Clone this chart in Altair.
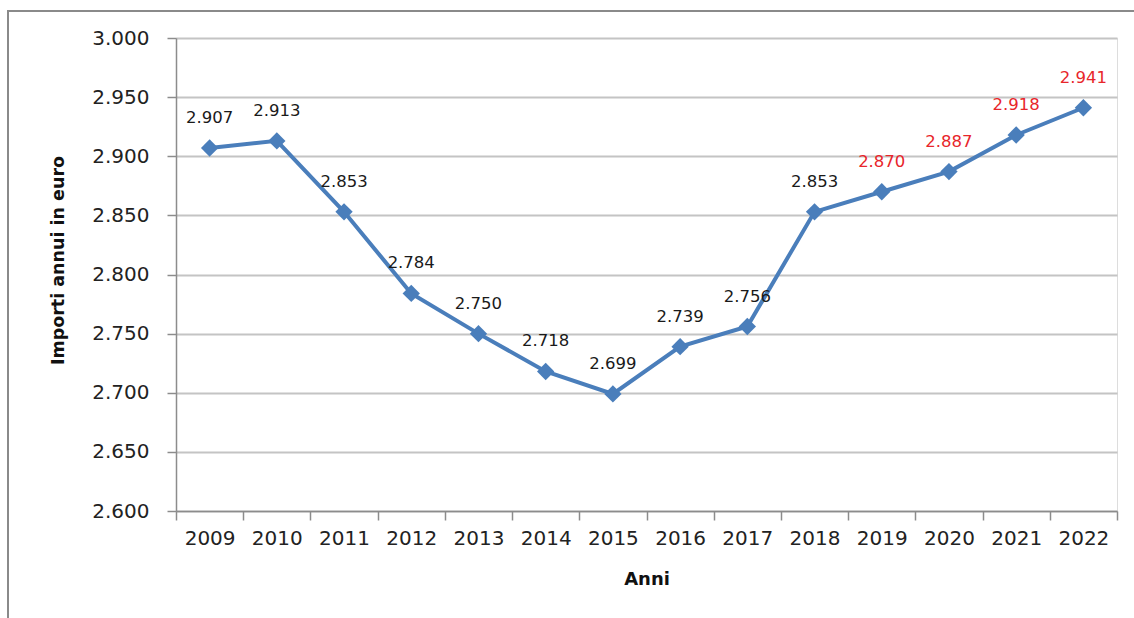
import altair as alt
import pandas as pd

# Annual amounts in euro, 2009-2022
anni = ["2009", "2010", "2011", "2012", "2013", "2014", "2015",
        "2016", "2017", "2018", "2019", "2020", "2021", "2022"]
importi = [2907, 2913, 2853, 2784, 2750, 2718, 2699,
           2739, 2756, 2853, 2870, 2887, 2918, 2941]
etichette = ["2.907", "2.913", "2.853", "2.784", "2.750", "2.718", "2.699",
             "2.739", "2.756", "2.853", "2.870", "2.887", "2.918", "2.941"]
# the last four years are estimates, labelled in red
stima = [False] * 10 + [True] * 4

df = pd.DataFrame({
    "anno": anni,
    "valore": importi,
    "etichetta": etichette,
    "stima": stima,
})

W, H = 941, 473
BLUE = "#4a7ebb"
FONT = "DejaVu Sans"

x_enc = alt.X(
    "anno:N",
    sort=anni,
    scale=alt.Scale(paddingInner=0, paddingOuter=0),
    axis=alt.Axis(
        title="Anni",
        titleFont=FONT, titleFontSize=18, titleFontWeight="bold", titleColor="#111",
        titleY=68, titleBaseline="middle",
        labelFont=FONT, labelFontSize=20, labelColor="#222", labelPadding=8,
        labelAngle=0,
        tickBand="extent", tickSize=9, tickColor="#8c8c8c", tickWidth=1.5,
        domainColor="#8c8c8c", domainWidth=1.5,
        grid=False,
    ),
)
y_enc = alt.Y(
    "valore:Q",
    scale=alt.Scale(domain=[2600, 3000], nice=False, zero=False),
    axis=alt.Axis(
        title="Importi annui in euro",
        titleFont=FONT, titleFontSize=17.5, titleFontWeight="bold", titleColor="#111",
        titleX=-118, titleY=222, titleAlign="center", titleBaseline="middle",
        titleAngle=-90,
        values=list(range(2600, 3001, 50)),
        # thousands shown with a dot, Italian style
        labelExpr="format(datum.value / 1000, '.3f')",
        labelFont=FONT, labelFontSize=20, labelColor="#222", labelPadding=18,
        tickSize=9, tickColor="#8c8c8c", tickWidth=1.5,
        domainColor="#8c8c8c", domainWidth=1.5,
        gridColor="#c4c4c4", gridWidth=1.8,
    ),
)

base = alt.Chart(df)

frame = alt.Chart(pd.DataFrame({"k": [0]})).mark_rect(
    fill=None, stroke="#8a8a8a", strokeWidth=2
).encode(
    x=alt.value(-168), x2=alt.value(W + 40),
    y=alt.value(-27), y2=alt.value(H + 150),
)

line = base.mark_line(color=BLUE, strokeWidth=4).encode(x=x_enc, y=y_enc)
points = base.mark_point(
    shape="diamond", filled=True, size=300, color=BLUE, opacity=1
).encode(x=x_enc, y=y_enc)
labels = base.mark_text(
    dy=-30, font=FONT, fontSize=16.5
).encode(
    x=x_enc, y=y_enc,
    text="etichetta:N",
    color=alt.Color(
        "stima:N",
        scale=alt.Scale(domain=[False, True], range=["#1a1a1a", "#e8262b"]),
        legend=None,
    ),
)

chart = alt.layer(frame, line, points, labels).properties(
    width=W, height=H,
    autosize=alt.AutoSizeParams(type="none"),
    padding={"left": 176, "top": 38, "right": 17, "bottom": 107},
).configure_view(stroke=None).configure(background="white")

chart.save("out.html", embed_options={"renderer": "svg", "actions": False})
